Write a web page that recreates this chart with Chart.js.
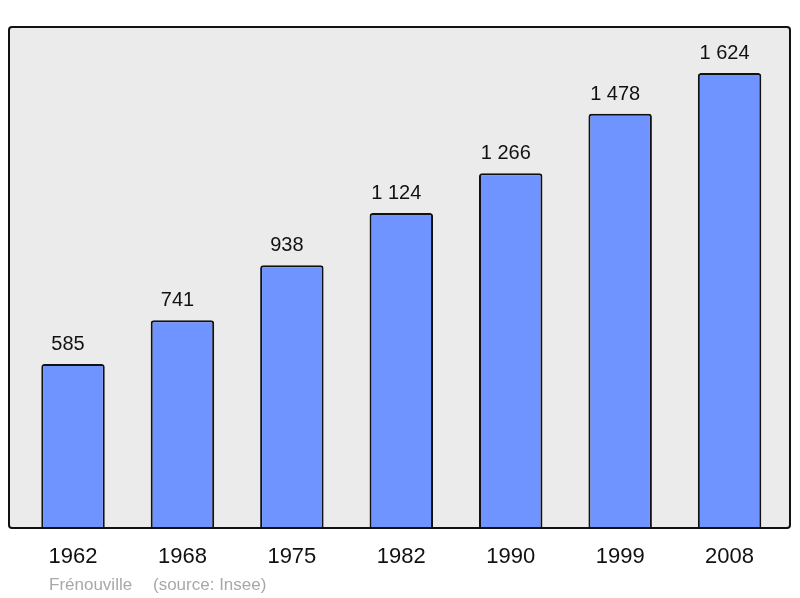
<!DOCTYPE html>
<html><head><meta charset="utf-8">
<script src="https://cdn.jsdelivr.net/npm/chart.js@4/dist/chart.umd.min.js"></script>
<style>html,body{margin:0;padding:0;background:#fff;}#wrap{width:800px;height:598px;}</style>
</head><body><div id="wrap"><canvas id="c" width="800" height="598"></canvas></div>
<script>
const years = ["1962","1968","1975","1982","1990","1999","2008"];
const population = [585, 741, 938, 1124, 1266, 1478, 1624];
const valueLabels = ["585","741","938","1 124","1 266","1 478","1 624"];
const footerPlace = "Frénouville";
const footerSource = "(source: Insee)";

const FONT = "'Liberation Sans', Arial, sans-serif";
const frame = {l:9, t:27, r:790, b:528};

const framePlugin = {
  id: 'frame',
  beforeDraw(chart) {
    const ctx = chart.ctx;
    ctx.save();
    ctx.fillStyle = '#fff';
    ctx.fillRect(0,0,chart.width,chart.height);
    ctx.beginPath();
    ctx.roundRect(frame.l, frame.t, frame.r-frame.l, frame.b-frame.t, 3);
    ctx.fillStyle = '#ebebeb';
    ctx.fill();
    ctx.restore();
  },
  afterDatasetsDraw(chart) {
    const ctx = chart.ctx;
    ctx.save();
    ctx.beginPath();
    ctx.roundRect(frame.l, frame.t, frame.r-frame.l, frame.b-frame.t, 3);
    ctx.lineWidth = 2;
    ctx.strokeStyle = '#111';
    ctx.stroke();
    // value labels
    const meta = chart.getDatasetMeta(0);
    ctx.fillStyle = '#111';
    ctx.font = "20px " + FONT;
    ctx.textAlign = 'center';
    ctx.textBaseline = 'alphabetic';
    meta.data.forEach((bar, i) => {
      ctx.fillText(valueLabels[i], bar.x - 5, bar.y - 14);
    });
    // footer
    ctx.fillStyle = '#a8a8a8';
    ctx.font = "17px " + FONT;
    ctx.textAlign = 'left';
    ctx.fillText(footerPlace, 49, 590);
    ctx.fillText(footerSource, 153, 590);
    ctx.restore();
  }
};

new Chart(document.getElementById('c'), {
  type: 'bar',
  data: {
    labels: years,
    datasets: [{
      data: population,
      backgroundColor: '#7094ff',
      borderColor: '#111',
      borderWidth: 2,
      borderRadius: {topLeft: 3, topRight: 3},
      borderSkipped: 'bottom',
      categoryPercentage: 1,
      barPercentage: 0.58
    }]
  },
  options: {
    responsive: false,
    animation: false,
    layout: {padding: {left: 18.3, right: 15.7, top: 27, bottom: 0}},
    plugins: {legend: {display: false}, tooltip: {enabled: false}, title: {display: false}},
    scales: {
      y: {display: false, min: 0, max: 1788},
      x: {
        grid: {display: false, drawTicks: false},
        border: {display: false},
        ticks: {color: '#111', font: {size: 22, family: FONT}, padding: 16},
        afterFit(s) { s.height = 70; }
      }
    }
  },
  plugins: [framePlugin]
});
</script>
</body></html>
